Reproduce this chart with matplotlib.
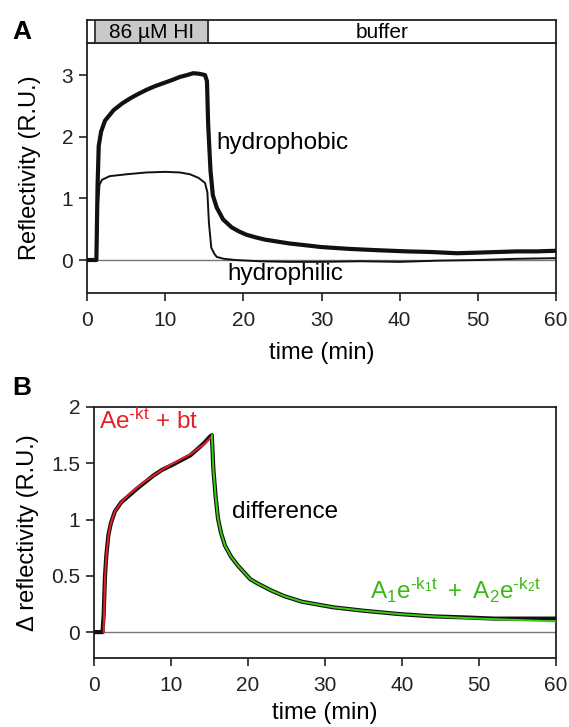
import matplotlib
matplotlib.use("Agg")
import matplotlib.pyplot as plt
import numpy as np

plt.rcParams['font.family'] = ['Liberation Sans', 'DejaVu Sans']
plt.rcParams['mathtext.fontset'] = 'custom'
plt.rcParams['mathtext.rm'] = 'Liberation Sans'
plt.rcParams['mathtext.it'] = 'Liberation Sans'
plt.rcParams['mathtext.bf'] = 'Liberation Sans:bold'

# ---- Data ----
t_phobic = [0, 1.2, 1.35, 1.5, 1.8, 2.3, 3.4, 4.5, 5.5, 6.5, 7.6, 8.7, 9.8, 10.9, 11.9, 12.8, 13.6, 14.4, 15.1, 15.35,
            15.5, 15.8, 16.1, 16.6, 17.4, 18.5, 19.5, 20.4, 21.5, 22.8, 24.3, 25.8, 27.2, 30.0, 33.6, 37.0, 40.9,
            44.0, 47.3, 50.0, 52.5, 55.0, 57.5, 60.0]
y_phobic = [0, 0, 1.2, 1.85, 2.08, 2.26, 2.43, 2.54, 2.62, 2.69, 2.76, 2.82, 2.87, 2.92, 2.97, 3.0, 3.03, 3.02, 3.0, 2.9,
            2.2, 1.45, 1.05, 0.85, 0.66, 0.53, 0.46, 0.41, 0.37, 0.33, 0.30, 0.27, 0.25, 0.21, 0.18, 0.16, 0.14,
            0.13, 0.11, 0.12, 0.13, 0.14, 0.14, 0.15]

t_philic = [0, 1.25, 1.4, 1.6, 1.9, 2.9, 5.0, 7.6, 10.0, 11.9, 13.2, 14.3, 15.1, 15.4, 15.6, 15.9, 16.3, 16.6, 17.5, 19.0,
            22.0, 26.0, 30.0, 35.0, 40.0, 45.0, 50.0, 55.0, 60.0]
y_philic = [0, 0, 0.9, 1.22, 1.3, 1.36, 1.39, 1.42, 1.43, 1.42, 1.39, 1.33, 1.25, 1.1, 0.6, 0.2, 0.1, 0.05, 0.02, 0.0,
            -0.02, -0.03, -0.03, -0.02, -0.03, -0.01, 0.0, 0.02, 0.03]

t_diff = [0, 1.1, 1.25, 1.43, 1.6, 1.86, 2.2, 2.7, 3.5, 4.5, 5.5, 6.6, 7.7, 8.8, 10.0, 11.4, 12.5, 13.5, 14.3, 15.1, 15.3,
          15.5, 15.8, 16.1, 16.5, 17.0, 17.8, 18.7, 20.3, 21.3, 23.0, 24.7, 27.0, 31.1, 35.0, 39.7, 44.0, 48.4, 52.0,
          56.0, 60.0]
y_diff = [0, 0, 0.15, 0.5, 0.68, 0.86, 0.97, 1.07, 1.15, 1.21, 1.27, 1.33, 1.39, 1.44, 1.48, 1.53, 1.57, 1.63, 1.68, 1.74, 1.75,
          1.45, 1.2, 1.01, 0.88, 0.77, 0.67, 0.59, 0.47, 0.43, 0.37, 0.32, 0.27, 0.22, 0.19, 0.16, 0.14, 0.13, 0.12,
          0.12, 0.12]

t_fit1 = [1.25, 1.43, 1.6, 1.86, 2.2, 2.7, 3.5, 4.5, 5.5, 6.6, 7.7, 8.8, 10.0, 11.4, 12.5, 13.5, 14.3, 15.2]
y_fit1 = [0.0, 0.48, 0.67, 0.85, 0.97, 1.07, 1.15, 1.22, 1.28, 1.34, 1.39, 1.44, 1.49, 1.54, 1.58, 1.63, 1.67, 1.73]

t_fit2 = [15.3, 15.5, 15.8, 16.1, 16.5, 17.0, 17.8, 18.7, 20.3, 21.3, 23.0, 24.7, 27.0, 31.1, 35.0, 39.7, 44.0, 48.4,
          52.0, 56.0, 60.0]
y_fit2 = [1.75, 1.45, 1.2, 1.01, 0.88, 0.77, 0.67, 0.59, 0.47, 0.43, 0.37, 0.32, 0.27, 0.22, 0.19, 0.16, 0.14, 0.125,
          0.115, 0.105, 0.095]

xticks = [0, 10, 20, 30, 40, 50, 60]
yticks_a = [0, 1, 2, 3]
yticks_b = [0, 0.5, 1, 1.5, 2]
yticklabels_b = ["0", "0.5", "1", "1.5", "2"]

W, H = 569, 727
fig = plt.figure(figsize=(W / 100, H / 100), dpi=100)

TICK_FS = 15
LABEL_FS = 17
NOTE_FS = 17.5

def rect(x0, y0, x1, y1):
    return [x0 / W, 1 - y1 / H, (x1 - x0) / W, (y1 - y0) / H]

def style(ax):
    for s in ax.spines.values():
        s.set_linewidth(1.3)
        s.set_color('#222222')
    ax.tick_params(direction='out', length=6, width=1.2, labelsize=TICK_FS, colors='#222222')
    ax.tick_params(axis='x', pad=7)
    ax.tick_params(axis='y', pad=4)
    ax.tick_params(top=False, right=False)

# ---- Panel A ----
axA = fig.add_axes(rect(87, 43, 556, 293))
axA.set_xlim(0, 60)
axA.set_ylim(-0.535, 3.52)
axA.axhline(0, color='#777777', lw=1.0, zorder=1)
axA.plot(t_philic, y_philic, color='#111111', lw=1.4, zorder=3)
axA.plot(t_phobic, y_phobic, color='#111111', lw=3.0, zorder=4)
axA.set_xticks(xticks)
axA.set_yticks(yticks_a)
axA.set_xlabel("time (min)", fontsize=LABEL_FS)
axA.set_ylabel("Reflectivity (R.U.)", fontsize=LABEL_FS)
axA.xaxis.set_label_coords(0.5, (293 - 353) / 250, transform=axA.transAxes)
axA.yaxis.set_label_coords((30 - 87) / 469, 0.5, transform=axA.transAxes)
axA.xaxis.label.set_va('center')
axA.yaxis.label.set_va('center')
axA.text(16.6, 1.9, "hydrophobic", fontsize=NOTE_FS, va='center', ha='left')
axA.text(17.9, -0.22, "hydrophilic", fontsize=NOTE_FS, va='center', ha='left')
style(axA)

# header bar
axH = fig.add_axes(rect(87, 20, 556, 43))
axH.set_xlim(0, 60)
axH.set_ylim(0, 1)
axH.axvspan(1.0, 15.5, color='#c9c9c9', zorder=0)
axH.axvline(1.0, color='#222222', lw=1.2)
axH.axvline(15.5, color='#222222', lw=1.2)
axH.text(8.25, 0.45, "86 µM HI", ha='center', va='center', fontsize=15)
axH.text(37.75, 0.45, "buffer", ha='center', va='center', fontsize=15)
axH.set_xticks([])
axH.set_yticks([])
for s in axH.spines.values():
    s.set_linewidth(1.3)
    s.set_color('#222222')

fig.text(22 / W, 1 - 32 / H, "A", fontsize=19, fontweight='bold', va='center', ha='center')

# ---- Panel B ----
axB = fig.add_axes(rect(94, 407, 556, 658))
axB.set_xlim(0, 60)
axB.set_ylim(-0.23, 2.0)
axB.axhline(0, color='#777777', lw=1.0, zorder=1)
axB.plot(t_diff, y_diff, color='#111111', lw=3.0, zorder=3)
axB.plot(t_fit1, y_fit1, color='#e8202a', lw=1.4, zorder=4)
axB.plot(t_fit2, y_fit2, color='#3ccc14', lw=1.4, zorder=4)
axB.set_xticks(xticks)
axB.set_yticks(yticks_b)
axB.set_yticklabels(yticklabels_b)
axB.set_xlabel("time (min)", fontsize=LABEL_FS)
axB.set_ylabel("Δ reflectivity (R.U.)", fontsize=LABEL_FS)
axB.xaxis.set_label_coords(0.5, (658 - 713) / 251, transform=axB.transAxes)
axB.yaxis.set_label_coords((28 - 94) / 462, 0.5, transform=axB.transAxes)
axB.xaxis.label.set_va('center')
axB.yaxis.label.set_va('center')
axB.text(17.9, 1.07, "difference", fontsize=NOTE_FS, va='center', ha='left')
axB.text(0.7, 1.87, r"$\mathregular{Ae^{\text{-}kt}}$ + bt", fontsize=NOTE_FS, color='#e8202a',
         va='center', ha='left')
axB.text(35.8, 0.37, r"$\mathregular{A_1e^{\text{-}k_1t}\ +\ A_2e^{\text{-}k_2t}}$", fontsize=NOTE_FS,
         color='#3cb814', va='center', ha='left')
style(axB)

fig.text(22 / W, 1 - 388 / H, "B", fontsize=19, fontweight='bold', va='center', ha='center')

fig.savefig("out.png", dpi=100)
